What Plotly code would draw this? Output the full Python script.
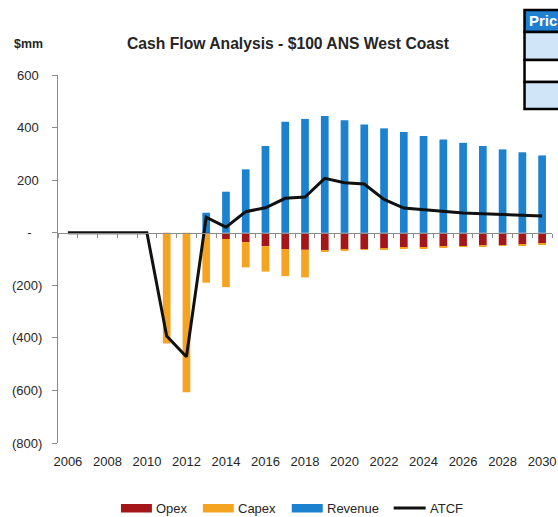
import plotly.graph_objects as go

years = list(range(2006, 2031))
opex = [0, 0, 0, 0, 0, 0, 0, -6, -24, -36, -51, -62, -65, -68, -65, -62, -60, -58, -56, -53, -51, -48, -47, -46, -42]
capex = [0, 0, 0, 0, 0, -421, -607, -184, -183, -96, -97, -103, -105, -4, -3, -3, -3, -3, -3, -3, -3, -3, -3, -3, -3]
revenue = [0, 0, 0, 0, 0, 0, 0, 76, 156, 241, 330, 422, 433, 444, 428, 412, 397, 383, 368, 355, 342, 330, 317, 306, 294]
atcf = [0, 0, 0, 0, 0, -393, -472, 59, 21, 80, 95, 131, 136, 207, 190, 185, 127, 94, 88, 81, 75, 72, 70, 66, 64]

ytick_vals = [600, 400, 200, 0, -200, -400, -600, -800]
ytick_text = ["600\u00a0", "400\u00a0", "200\u00a0", "-\u00a0\u00a0\u00a0", "(200)", "(400)", "(600)", "(800)"]
xtick_vals = list(range(2006, 2031, 2))

C_OPEX = "#a5161b"
C_CAPEX = "#f5a422"
C_REV = "#1c82d0"
C_ATCF = "#111111"
AXIS = "#8c8c8c"
TXT = "#262626"
FONT = "Liberation Sans, Arial, sans-serif"

W, H = 558, 517
ML, MR, MT, MB = 58, 5.5, 75, 74
PW, PH = W - ML - MR, H - MT - MB


def px(x):
    return (x - ML) / PW


def py(y):
    return (H - MB - y) / PH


fig = go.Figure()
fig.add_bar(x=years, y=opex, name="Opex", marker=dict(color=C_OPEX, line=dict(width=0)), width=0.39, showlegend=False)
fig.add_bar(x=years, y=capex, name="Capex", marker=dict(color=C_CAPEX, line=dict(width=0)), width=0.39, showlegend=False)
fig.add_bar(x=years, y=revenue, name="Revenue", marker=dict(color=C_REV, line=dict(width=0)), width=0.39, showlegend=False)
fig.add_scatter(x=years, y=atcf, name="ATCF", mode="lines", line=dict(color=C_ATCF, width=3), showlegend=False)

# zero-line axis with category-boundary ticks
fig.add_scatter(x=[2005.5, 2030.5], y=[0, 0], xaxis="x2", mode="lines", line=dict(width=0), hoverinfo="skip", showlegend=False)

zero_frac = 800 / 1400

fig.update_layout(
    width=W, height=H,
    margin=dict(l=ML, r=MR, t=MT, b=MB, autoexpand=False),
    paper_bgcolor="white", plot_bgcolor="white",
    barmode="relative",
    font=dict(family=FONT, size=13, color=TXT),
    xaxis=dict(range=[2005.5, 2030.5], tickvals=xtick_vals, ticktext=[str(v) for v in xtick_vals],
               showline=False, showgrid=False, zeroline=False, ticks="outside", ticklen=6,
               tickcolor="rgba(0,0,0,0)", tickfont=dict(family=FONT, size=13, color=TXT)),
    xaxis2=dict(range=[2005.5, 2030.5], overlaying="x", anchor="free", position=zero_frac, side="bottom",
                tickmode="linear", tick0=2005.5, dtick=1, ticks="outside", ticklen=4, tickcolor=AXIS,
                showticklabels=False, showline=True, linecolor=AXIS, linewidth=1, showgrid=False, zeroline=False),
    yaxis=dict(range=[-800, 600], tickvals=ytick_vals, ticktext=ytick_text, showline=True, linecolor=AXIS,
               linewidth=1, ticks="outside", ticklen=5, tickcolor=AXIS, showgrid=False, zeroline=False,
               ticklabelstandoff=7, tickfont=dict(family=FONT, size=13, color=TXT)),
    showlegend=False,
)

annotations = [
    dict(text="<b>Cash Flow Analysis - $100 ANS West Coast</b>", x=px(289), y=py(44), xref="paper", yref="paper",
         showarrow=False, xanchor="center", yanchor="middle", font=dict(family=FONT, size=15.7, color=TXT)),
    dict(text="<b>$mm</b>", x=px(12), y=py(44), xref="paper", yref="paper",
         showarrow=False, xanchor="left", yanchor="middle", font=dict(family=FONT, size=12.4, color=TXT)),
    dict(text="<b>Pric</b>", x=px(527), y=py(21), xref="paper", yref="paper",
         showarrow=False, xanchor="left", yanchor="middle", font=dict(family=FONT, size=15, color="white")),
]

shapes = []
# price table (partially visible, cut by the right edge)
table_rows = [(10, 32, "#1f7fd0"), (32, 60, "#d0e5f8"), (60, 82, "white"), (82, 109, "#d0e5f8")]
for top, bot, col in table_rows:
    shapes.append(dict(type="rect", xref="paper", yref="paper", x0=px(525), x1=px(600), y0=py(bot), y1=py(top),
                       fillcolor=col, line=dict(color="black", width=2.5), layer="above"))

# custom legend
legend_items = [("Opex", C_OPEX, 121, 152, "bar"), ("Capex", C_CAPEX, 203, 234, "bar"),
                ("Revenue", C_REV, 292, 323, "bar"), ("ATCF", C_ATCF, 394, 426, "line")]
for name, col, x0, x1, kind in legend_items:
    if kind == "bar":
        shapes.append(dict(type="rect", xref="paper", yref="paper", x0=px(x0), x1=px(x1), y0=py(512.5), y1=py(504),
                           fillcolor=col, line=dict(width=0)))
    else:
        shapes.append(dict(type="line", xref="paper", yref="paper", x0=px(x0), x1=px(x1), y0=py(508), y1=py(508),
                           line=dict(color=col, width=3)))
    annotations.append(dict(text=name, x=px(x1 + 2), y=py(508.5), xref="paper", yref="paper", showarrow=False,
                            xanchor="left", yanchor="middle", font=dict(family=FONT, size=13, color=TXT)))

fig.update_layout(annotations=annotations, shapes=shapes)
fig.write_html("out.html", config={"displayModeBar": False},
               post_script="document.body.style.margin='0';document.body.style.overflow='hidden';")
